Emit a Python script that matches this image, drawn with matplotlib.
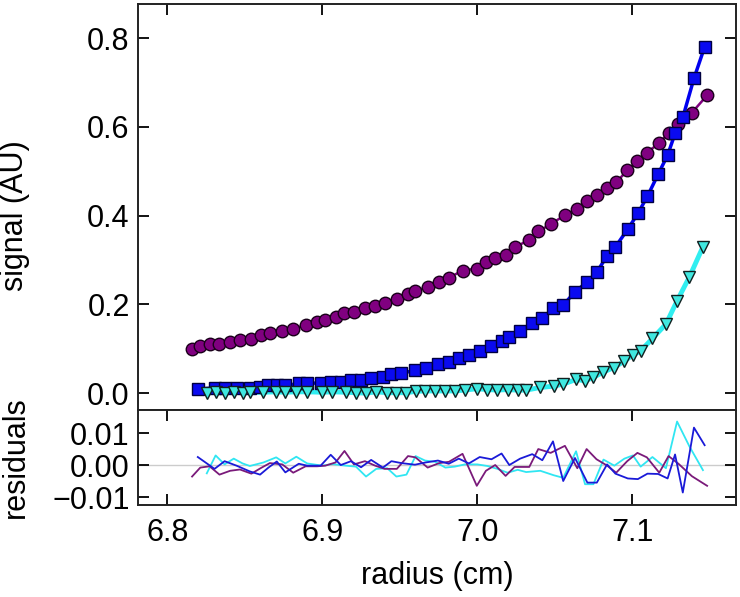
import matplotlib
matplotlib.use("Agg")
import matplotlib.pyplot as plt
import numpy as np

plt.rcParams["font.family"] = ["Liberation Sans", "DejaVu Sans"]

C_PUR = "#800080"
C_BLU = "#0a0af0"
C_CYA = "#40e8e0"

# purple circles
r_pur = [6.8159, 6.8212, 6.8272, 6.8336, 6.8405, 6.8468, 6.8542, 6.8601, 6.8661, 6.8741,
         6.8812, 6.8892, 6.8966, 6.9019, 6.9085, 6.9143, 6.9204, 6.9275, 6.9341, 6.9402,
         6.9481, 6.9553, 6.9601, 6.9680, 6.9754, 6.9817, 6.9905, 6.9997, 7.0056, 7.0116,
         7.0183, 7.0241, 7.0336, 7.0394, 7.0474, 7.0566, 7.0646, 7.0706, 7.0770, 7.0839,
         7.0897, 7.0968, 7.1034, 7.1095, 7.1175, 7.1235, 7.1299, 7.1386, 7.1484]
s_pur = [0.0989, 0.1064, 0.1101, 0.1116, 0.1154, 0.1191, 0.1221, 0.1303, 0.1356, 0.1401,
         0.1446, 0.1536, 0.1596, 0.1640, 0.1708, 0.1813, 0.1830, 0.1925, 0.1970, 0.2037,
         0.2120, 0.2240, 0.2307, 0.2390, 0.2494, 0.2599, 0.2764, 0.2809, 0.2951, 0.3041,
         0.3124, 0.3288, 0.3453, 0.3648, 0.3805, 0.4015, 0.4157, 0.4337, 0.4472, 0.4622,
         0.4749, 0.5019, 0.5228, 0.5423, 0.5633, 0.5873, 0.6067, 0.6322, 0.6712]
res_pur = [-0.0036, -0.0008, -0.0004, -0.0030, -0.0018, -0.0014, -0.0027, -0.0010, 0.0006, 0.0002,
           -0.0024, -0.0004, -0.0004, -0.0002, 0.0008, 0.0044, 0.0002, 0.0012, -0.0002, -0.0012,
           -0.0012, 0.0028, 0.0024, -0.0008, 0.0006, 0.0010, 0.0035, -0.0065, -0.0018, 0.0000,
           -0.0034, -0.0006, -0.0006, 0.0050, 0.0038, 0.0060, -0.0010, 0.0050, 0.0018, -0.0002,
           -0.0024, 0.0012, 0.0038, 0.0024, -0.0024, 0.0028, 0.0004, -0.0035, -0.0065]

# blue squares
r_blu = [6.8196, 6.8304, 6.8369, 6.8446, 6.8532, 6.8598, 6.8652, 6.8706, 6.8761, 6.8848,
         6.8902, 6.8989, 6.9054, 6.9119, 6.9185, 6.9250, 6.9315, 6.9391, 6.9446, 6.9511,
         6.9598, 6.9667, 6.9746, 6.9816, 6.9881, 6.9946, 7.0016, 7.0092, 7.0157, 7.0207,
         7.0277, 7.0355, 7.0420, 7.0489, 7.0555, 7.0631, 7.0711, 7.0772, 7.0838, 7.0892,
         7.0972, 7.1037, 7.1099, 7.1168, 7.1229, 7.1277, 7.1327, 7.1399, 7.1468]
s_blu = [0.0090, 0.0120, 0.0120, 0.0120, 0.0105, 0.0143, 0.0173, 0.0173, 0.0173, 0.0218,
         0.0218, 0.0233, 0.0255, 0.0255, 0.0293, 0.0293, 0.0345, 0.0367, 0.0428, 0.0444,
         0.0518, 0.0570, 0.0654, 0.0705, 0.0795, 0.0850, 0.0953, 0.1066, 0.1179, 0.1269,
         0.1397, 0.1571, 0.1683, 0.1908, 0.1983, 0.2283, 0.2508, 0.2733, 0.3087, 0.3297,
         0.3696, 0.4049, 0.4439, 0.4935, 0.5363, 0.5852, 0.6213, 0.7092, 0.7804]
res_blu = [0.0025, -0.0012, 0.0012, -0.0002, -0.0020, -0.0030, -0.0008, 0.0011, -0.0023, 0.0004,
           -0.0002, -0.0002, 0.0032, 0.0000, 0.0012, -0.0007, 0.0016, -0.0008, 0.0012, 0.0006,
           0.0001, 0.0008, 0.0014, 0.0004, 0.0020, 0.0005, 0.0025, 0.0018, 0.0036, 0.0000,
           0.0020, 0.0034, 0.0015, 0.0074, -0.0050, 0.0022, -0.0055, -0.0055, 0.0002, -0.0027,
           -0.0042, -0.0044, -0.0027, -0.0028, -0.0042, 0.0033, -0.0086, 0.0117, 0.0062]

# cyan triangles
r_cya = [6.8254, 6.8311, 6.8369, 6.8428, 6.8485, 6.8532, 6.8620, 6.8702, 6.8761, 6.8832,
         6.8902, 6.9000, 6.9065, 6.9152, 6.9217, 6.9282, 6.9348, 6.9419, 6.9478, 6.9543,
         6.9602, 6.9663, 6.9729, 6.9794, 6.9855, 6.9920, 7.0000, 7.0065, 7.0130, 7.0196,
         7.0261, 7.0316, 7.0407, 7.0494, 7.0555, 7.0638, 7.0696, 7.0750, 7.0815, 7.0885,
         7.0950, 7.1005, 7.1055, 7.1131, 7.1218, 7.1290, 7.1370, 7.1457]
s_cya = [0.0005, 0.0030, 0.0010, 0.0020, 0.0010, 0.0020, 0.0020, 0.0030, 0.0020, 0.0030,
         0.0030, 0.0020, 0.0030, 0.0020, 0.0010, 0.0000, 0.0030, 0.0010, 0.0010, 0.0010,
         0.0040, 0.0050, 0.0050, 0.0050, 0.0050, 0.0070, 0.0100, 0.0080, 0.0070, 0.0080,
         0.0068, 0.0068, 0.0128, 0.0158, 0.0203, 0.0309, 0.0277, 0.0354, 0.0480, 0.0578,
         0.0728, 0.0856, 0.0953, 0.1232, 0.1555, 0.2080, 0.2621, 0.3297]
res_cya = [-0.0026, 0.0030, 0.0002, 0.0020, 0.0005, -0.0003, 0.0008, 0.0024, 0.0005, 0.0026,
           0.0005, -0.0002, 0.0003, -0.0002, -0.0005, -0.0036, -0.0012, -0.0010, -0.0036, -0.0030,
           0.0028, 0.0014, 0.0010, -0.0008, -0.0005, 0.0002, 0.0002, -0.0003, -0.0012, -0.0024,
           -0.0015, -0.0022, -0.0018, -0.0032, -0.0040, 0.0043, -0.0060, -0.0060, 0.0017, -0.0002,
           0.0020, 0.0030, -0.0005, 0.0025, -0.0010, 0.0136, 0.0058, -0.0016]

fig = plt.figure(figsize=(7.4, 5.97), dpi=100)
ax = fig.add_axes([0.1865, 0.3132, 0.808, 0.6801])
axr = fig.add_axes([0.1865, 0.1541, 0.808, 0.1591], sharex=ax)

# fit lines under the markers
ax.plot(r_cya, s_cya, color="#30eef0", lw=3.5, zorder=2)
ax.plot(r_blu, s_blu, color="#0000ee", lw=2.5, zorder=2)
ax.plot(r_pur, s_pur, color=C_PUR, lw=1.8, zorder=2)

ax.plot(r_pur, s_pur, "o", ms=9, mfc=C_PUR, mec="#1a001a", mew=1.0, zorder=4)
ax.plot(r_blu, s_blu, "s", ms=8.5, mfc=C_BLU, mec="#000040", mew=1.0, zorder=4)
ax.plot(r_cya, s_cya, "v", ms=9, mfc=C_CYA, mec="#102020", mew=1.0, zorder=4)

axr.axhline(0, color="#cccccc", lw=1.0, zorder=1)
axr.plot(r_pur, res_pur, color="#7a1a7a", lw=1.3, zorder=3)
axr.plot(r_blu, res_blu, color="#1a1ad8", lw=1.3, zorder=3)
axr.plot(r_cya, res_cya, color="#30e6f2", lw=1.3, zorder=2)

ax.set_xlim(6.781, 7.167)
ax.set_ylim(-0.038, 0.877)
axr.set_ylim(-0.0125, 0.0172)

ax.set_yticks([0.0, 0.2, 0.4, 0.6, 0.8])
ax.set_yticklabels(["0.0", "0.2", "0.4", "0.6", "0.8"])
axr.set_yticks([-0.01, 0.0, 0.01])
axr.set_yticklabels(["\u22120.01", "0.00", "0.01"])
axr.set_xticks([6.8, 6.9, 7.0, 7.1])
axr.set_xticklabels(["6.8", "6.9", "7.0", "7.1"])

for a in (ax, axr):
    for sp in a.spines.values():
        sp.set_linewidth(1.4)
        sp.set_color("#222222")
ax.tick_params(axis="both", direction="in", length=8, width=1.3, pad=6,
               top=True, right=True, bottom=False, labelbottom=False, labelsize=22)
axr.tick_params(axis="both", direction="in", length=8, width=1.3, pad=6,
                top=True, right=True, labelsize=22)
axr.tick_params(axis="x", pad=9)

ax.set_ylabel("signal (AU)", fontsize=22)
axr.set_ylabel("residuals", fontsize=22)
ax.yaxis.set_label_coords(-0.18, 0.48)
axr.yaxis.set_label_coords(-0.18, 0.5)
axr.set_xlabel("radius (cm)", fontsize=22, labelpad=10)

fig.savefig("out.png", dpi=100)
